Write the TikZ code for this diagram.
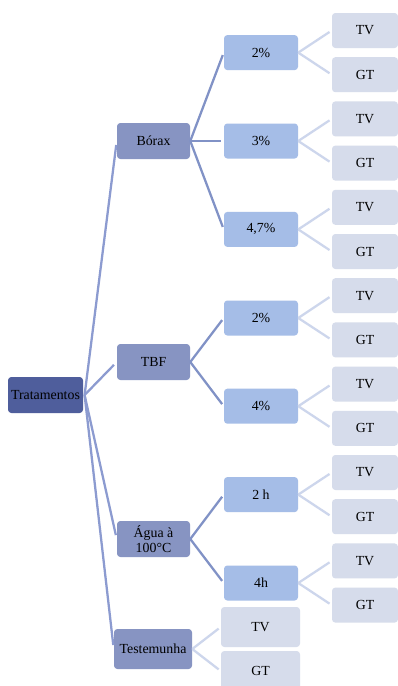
\documentclass[tikz,border=0pt]{standalone}
\usepackage{fontspec}
\setmainfont{Liberation Serif}
\definecolor{croot}{HTML}{4F5E9C}
\definecolor{cone}{HTML}{8794C2}
\definecolor{ctwo}{HTML}{A5BDE7}
\definecolor{cthree}{HTML}{D6DCEB}
\definecolor{lone}{HTML}{8C9BD0}
\definecolor{ltwo}{HTML}{8192C6}
\definecolor{lthree}{HTML}{CDD6EC}
\tikzset{
  box/.style={rounded corners=2.5pt, inner sep=0pt, align=center,
    font=\fontsize{10.4}{11.3}\selectfont, text=black},
  rootbox/.style={box, fill=croot, minimum width=56.25pt, minimum height=27pt},
  onebox/.style={box, fill=cone, minimum width=54.75pt, minimum height=27pt},
  twobox/.style={box, fill=ctwo, minimum width=55.5pt, minimum height=26.25pt},
  threebox/.style={box, fill=cthree, minimum width=49.5pt, minimum height=26.25pt},
  bigthree/.style={box, fill=cthree, minimum width=59.25pt, minimum height=30pt},
  lineone/.style={draw=lone, line width=1.7pt, shorten >=3pt},
  linetwo/.style={draw=ltwo, line width=1.7pt, shorten >=2pt},
  linethree/.style={draw=lthree, line width=1.7pt, shorten >=2pt},
}
\begin{document}
\begin{tikzpicture}[x=0.75pt, y=-0.75pt]
\useasboundingbox (0,0) rectangle (398,686);
\clip (0,0) rectangle (398,686);
\fill[white] (0,0) rectangle (398,686);
% root
\node[rootbox] (root) at (45.5,395) {Tratamentos};
% level 1
\node[onebox] (borax) at (153.5,141) {Bórax};
\node[onebox] (tbf) at (153.5,362) {TBF};
\node[onebox] (agua) at (153.5,539) {Água à\\100°C};
\node[onebox, minimum width=58.5pt, minimum height=30pt] (test) at (153,649) {Testemunha};
% level 2
\node[twobox] (b2) at (261,52.6) {2\%};
\node[twobox] (b3) at (261,141) {3\%};
\node[twobox] (b47) at (261,229.4) {4,7\%};
\node[twobox] (t2) at (261,318) {2\%};
\node[twobox] (t4) at (261,406.2) {4\%};
\node[twobox] (a2) at (261,494.6) {2 h};
\node[twobox] (a4) at (261,583) {4h};
% level 3
\foreach \n/\lab [count=\k from 0] in {b2tv/TV,b2gt/GT,b3tv/TV,b3gt/GT,b47tv/TV,b47gt/GT,t2tv/TV,t2gt/GT,t4tv/TV,t4gt/GT,a2tv/TV,a2gt/GT,a4tv/TV,a4gt/GT}
  \node[threebox] (\n) at (365,30.5+44.2*\k) {\lab};
\node[bigthree] (testtv) at (260.5,627) {TV};
\node[bigthree] (testgt) at (260.5,671) {GT};
% connectors level 1
\foreach \c in {borax,tbf,agua,test}
  \draw[lineone] ([xshift=1pt]root.east) -- (\c.west);
% level 2
\foreach \p/\c in {borax/b2,borax/b3,borax/b47,tbf/t2,tbf/t4,agua/a2,agua/a4}
  \draw[linetwo] (\p.east) -- (\c.west);
% level 3
\foreach \p in {b2,b3,b47,t2,t4,a2,a4}{
  \draw[linethree] (\p.east) -- (\p tv.west);
  \draw[linethree] (\p.east) -- (\p gt.west);
}
\draw[linethree] (test.east) -- (testtv.west);
\draw[linethree] (test.east) -- (testgt.west);
\end{tikzpicture}
\end{document}
